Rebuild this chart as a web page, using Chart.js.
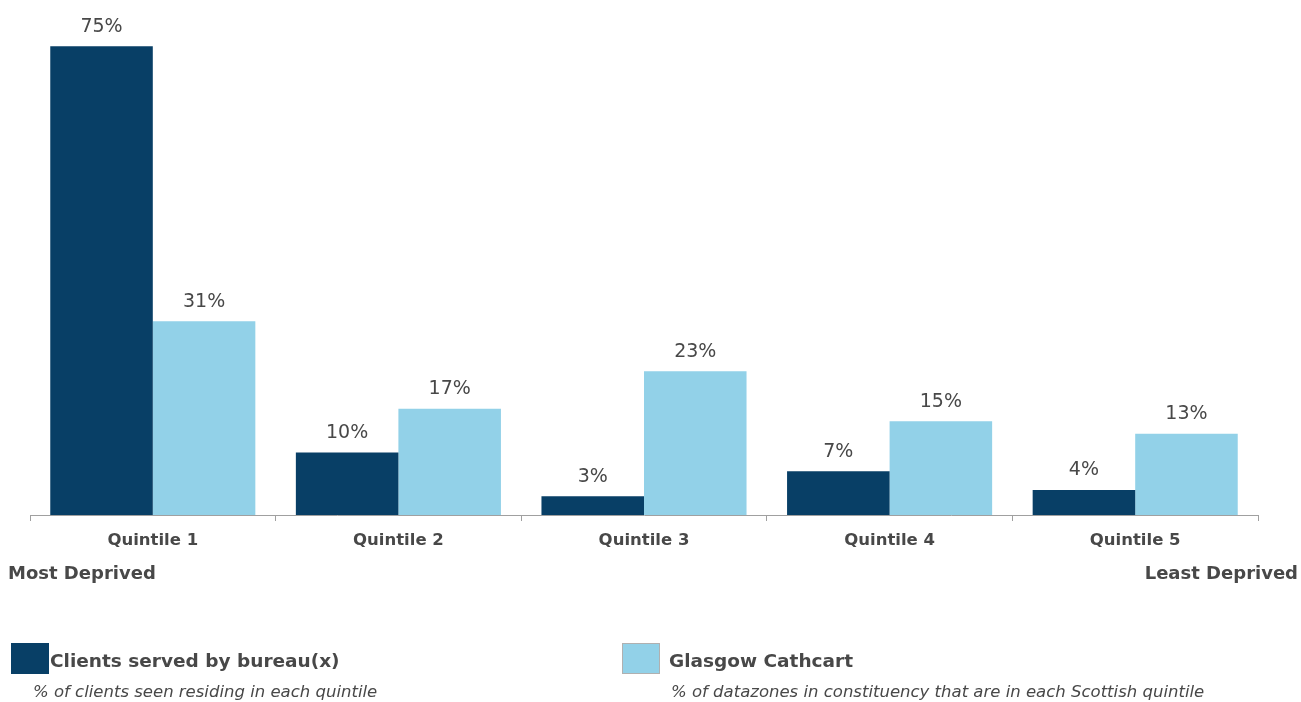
<!DOCTYPE html>
<html>
<head>
<meta charset="utf-8">
<script src="https://cdn.jsdelivr.net/npm/chart.js@4"></script>
<style>
  body { margin: 0; background: #fff; }
  #wrap { position: relative; width: 1301px; height: 702px; }
</style>
</head>
<body>
<div id="wrap"><canvas id="deprivationChart" width="1301" height="702"></canvas></div>
<script>
    // Data
    const quintiles = ['Quintile 1', 'Quintile 2', 'Quintile 3', 'Quintile 4', 'Quintile 5'];
    const clientsServed = [75, 10, 3, 7, 4];     // % of clients seen residing in each quintile
    const glasgowCathcart = [31, 17, 23, 15, 13]; // % of datazones in each Scottish quintile
    const seriesNames = ['Clients served by bureau(x)', 'Glasgow Cathcart'];
    const seriesNotes = ['% of clients seen residing in each quintile', '% of datazones in constituency that are in each Scottish quintile'];

    const textColor = '#484848';
    const fontFamily = 'Verdana, "DejaVu Sans", sans-serif';

    // Value labels above each bar
    const barLabels = {
        id: 'barLabels',
        afterDatasetsDraw(chart) {
            const ctx = chart.ctx;
            ctx.save();
            ctx.font = '19px ' + fontFamily;
            ctx.fillStyle = textColor;
            ctx.textAlign = 'center';
            ctx.textBaseline = 'bottom';
            chart.data.datasets.forEach((ds, i) => {
                chart.getDatasetMeta(i).data.forEach((bar, j) => {
                    ctx.fillText(ds.data[j] + '%', bar.x, bar.y - 10);
                });
            });
            ctx.restore();
        }
    };

    // End captions and the legend block under the axis
    const extras = {
        id: 'extras',
        afterDraw(chart) {
            const ctx = chart.ctx;
            ctx.save();
            ctx.fillStyle = textColor;
            ctx.textBaseline = 'middle';
            ctx.font = 'bold 18px ' + fontFamily;
            ctx.textAlign = 'left';
            ctx.fillText('Most Deprived', 8, 574);
            ctx.textAlign = 'right';
            ctx.fillText('Least Deprived', 1298, 574);

            const legendX = [11, 622];
            const colors = chart.data.datasets.map(d => d.backgroundColor);
            legendX.forEach((x, i) => {
                ctx.fillStyle = colors[i];
                ctx.fillRect(x, 643, 38, 31);
                if (i === 1) {
                    ctx.strokeStyle = '#b0b0b0';
                    ctx.lineWidth = 1;
                    ctx.strokeRect(x + 0.5, 643.5, 37, 30);
                }
                ctx.fillStyle = textColor;
                ctx.textAlign = 'left';
                ctx.font = 'bold 18.5px ' + fontFamily;
                ctx.fillText(seriesNames[i], i === 0 ? 50 : 669, 662);
                ctx.font = 'italic 16.5px ' + fontFamily;
                ctx.fillText(seriesNotes[i], i === 0 ? 33 : 671, 693);
            });
            ctx.restore();
        }
    };

    const ctxBar = document.getElementById('deprivationChart').getContext('2d');
    const deprivationChart = new Chart(ctxBar, {
        type: 'bar',
        data: {
            labels: quintiles,
            datasets: [{
                label: seriesNames[0],
                data: clientsServed,
                backgroundColor: '#083f66'
            }, {
                label: seriesNames[1],
                data: glasgowCathcart,
                backgroundColor: '#92d1e8'
            }]
        },
        options: {
            responsive: false,
            animation: false,
            layout: { padding: { left: 30, right: 43, top: 15, bottom: 0 } },
            datasets: {
                bar: { categoryPercentage: 0.835, barPercentage: 1.0 }
            },
            plugins: {
                legend: { display: false },
                tooltip: { enabled: false }
            },
            scales: {
                x: {
                    offset: true,
                    grid: {
                        offset: true,
                        drawOnChartArea: false,
                        tickLength: 6,
                        color: '#a0a0a0'
                    },
                    border: { color: '#a0a0a0', width: 1 },
                    ticks: {
                        padding: 10,
                        color: textColor,
                        font: { family: fontFamily, size: 16.5, weight: 'bold' }
                    },
                    afterFit(scale) { scale.height = 702 - 515; }
                },
                y: {
                    display: false,
                    min: 0,
                    max: 80
                }
            }
        },
        plugins: [barLabels, extras]
    });
</script>
</body>
</html>
